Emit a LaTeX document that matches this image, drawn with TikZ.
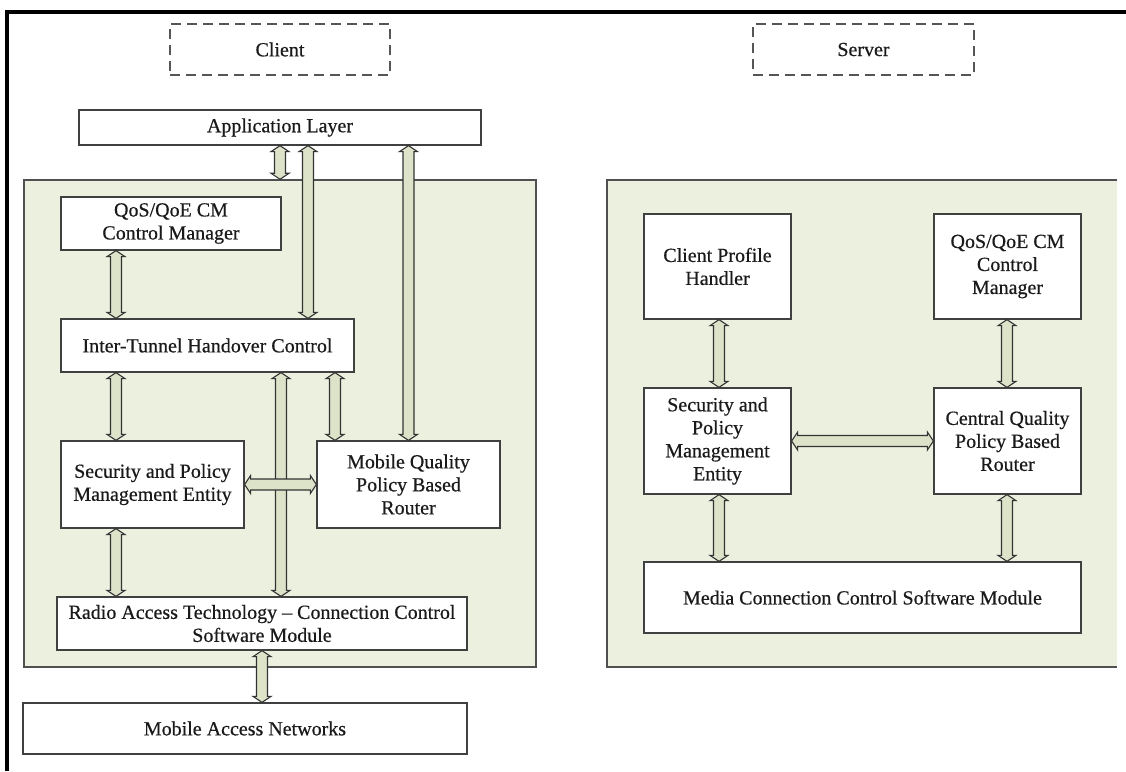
\documentclass[tikz,border=0pt]{standalone}
\usepackage{fontspec}
\setmainfont{Liberation Serif}[FakeBold=0.5]
\usetikzlibrary{calc}
\definecolor{panelfill}{HTML}{EBF1DE}
\definecolor{arrfill}{HTML}{DCE3C8}
\definecolor{arrline}{HTML}{333333}
\definecolor{boxline}{HTML}{404040}
\definecolor{panelline}{HTML}{505050}
\definecolor{dashline}{HTML}{555555}
\definecolor{txt}{HTML}{1A1A1A}
\tikzset{
  box/.style={draw=boxline, fill=white, line width=1.3pt, align=center, text=txt,
    font=\fontsize{20}{23}\selectfont, inner sep=0pt},
  dbox/.style={draw=dashline, dash pattern=on 10pt off 6pt, line width=1.2pt,
    align=center, text=txt, font=\fontsize{20}{23}\selectfont, inner sep=0pt},
  panel/.style={fill=panelfill, inner sep=0pt},
  varr/.style={draw=arrline, fill=arrfill, line width=1.1pt, line join=miter,
    to path={let \p1=(\tikztostart), \p2=(\tikztotarget) in
      (\x1,\y1) -- (\x1+9pt,\y1-6pt) -- (\x1+5.5pt,\y1-6pt) -- (\x1+5.5pt,\y2+6pt)
      -- (\x1+9pt,\y2+6pt) -- (\x1,\y2) -- (\x1-9pt,\y2+6pt) -- (\x1-5.5pt,\y2+6pt)
      -- (\x1-5.5pt,\y1-6pt) -- (\x1-9pt,\y1-6pt) -- cycle}},
  harr/.style={draw=arrline, fill=arrfill, line width=1.1pt, line join=miter,
    to path={let \p1=(\tikztostart), \p2=(\tikztotarget) in
      (\x1,\y1) -- (\x1+6pt,\y1+9pt) -- (\x1+6pt,\y1+5.5pt) -- (\x2-6pt,\y1+5.5pt)
      -- (\x2-6pt,\y1+9pt) -- (\x2,\y1) -- (\x2-6pt,\y1-9pt) -- (\x2-6pt,\y1-5.5pt)
      -- (\x1+6pt,\y1-5.5pt) -- (\x1+6pt,\y1-9pt) -- cycle}},
}
\begin{document}
\begin{tikzpicture}[x=1pt,y=-1pt]
\useasboundingbox (0,0) rectangle (1126,771);
\fill[white] (0,0) rectangle (1126,771);

% outer frame (top and left)
\coordinate (frTL) at (7,12);
\coordinate (frTR) at (1126,12);
\coordinate (frBL) at (7,771);
\draw[black, line width=4pt] (frTR) -- (frTL) -- (frBL);

% title boxes
\node[dbox, minimum width=220pt, minimum height=51pt] (client) at (280,49.5) {Client};
\node[dbox, minimum width=221pt, minimum height=51pt] (server) at (863.5,49.5) {Server};

% panels
\node[panel, draw=panelline, line width=1.5pt, minimum width=512pt, minimum height=487pt] (lp) at (280,423.5) {};
\node[panel, minimum width=510pt, minimum height=487pt] (rp) at (862,423.5) {};
\draw[panelline, line width=1.5pt] (rp.north east) -- (rp.north west) -- (rp.south west) -- (rp.south east);

% left boxes
\node[box, minimum width=402pt, minimum height=35pt] (app) at (280,127.5) {Application Layer};
\node[box, minimum width=220pt, minimum height=53pt] (qosl) at (171,223.5) {QoS/QoE CM\\Control Manager};
\node[box, minimum width=293pt, minimum height=53pt] (itc) at (207.5,345.5) {Inter-Tunnel Handover Control};
\node[box, minimum width=183pt, minimum height=87pt] (secl) at (152.5,484.5) {Security and Policy\\Management Entity};
\node[box, minimum width=183pt, minimum height=87pt] (mqr) at (408.5,484.5) {Mobile Quality\\Policy Based\\Router};
\node[box, minimum width=410pt, minimum height=53pt] (rat) at (262,623.5) {Radio Access Technology -- Connection Control\\Software Module};
\node[box, minimum width=444pt, minimum height=51pt] (man) at (245,728.5) {Mobile Access Networks};

% right boxes
\node[box, minimum width=147pt, minimum height=105pt] (cph) at (717.5,266.5) {Client Profile\\Handler};
\node[box, minimum width=147pt, minimum height=105pt] (qosr) at (1007.5,266.5) {QoS/QoE CM\\Control\\Manager};
\node[box, minimum width=147pt, minimum height=106pt] (secr) at (717.5,441) {Security and\\Policy\\Management\\Entity};
\node[box, minimum width=147pt, minimum height=106pt] (cqr) at (1007.5,441) {Central Quality\\Policy Based\\Router};
\node[box, minimum width=437pt, minimum height=71pt] (mccs) at (862.5,597.5) {Media Connection Control Software Module};

% x positions of connectors
\coordinate (x116) at (116,0);
\coordinate (x281) at (281,0);
\coordinate (x308) at (308,0);
\coordinate (x335) at (335,0);
\coordinate (x719) at (719,0);
\coordinate (x1007) at (1007,0);

% left connectors
\draw[varr] (app.south) to (lp.north);
\draw[varr] (app.south -| x308) to (itc.north -| x308);
\draw[varr] (app.south -| mqr.north) to (mqr.north);
\draw[varr] (qosl.south -| x116) to (itc.north -| x116);
\draw[varr] (itc.south -| x116) to (secl.north -| x116);
\draw[varr] (itc.south -| x281) to (rat.north -| x281);
\draw[varr] (itc.south -| x335) to (mqr.north -| x335);
\draw[harr] (secl.east) to (mqr.west);
\draw[varr] (secl.south -| x116) to (rat.north -| x116);
\draw[varr] (rat.south) to (man.north -| rat.south);

% right connectors
\draw[varr] (cph.south -| x719) to (secr.north -| x719);
\draw[varr] (qosr.south -| x1007) to (cqr.north -| x1007);
\draw[harr] (secr.east) to (cqr.west);
\draw[varr] (secr.south -| x719) to (mccs.north -| x719);
\draw[varr] (cqr.south -| x1007) to (mccs.north -| x1007);
\end{tikzpicture}
\end{document}
